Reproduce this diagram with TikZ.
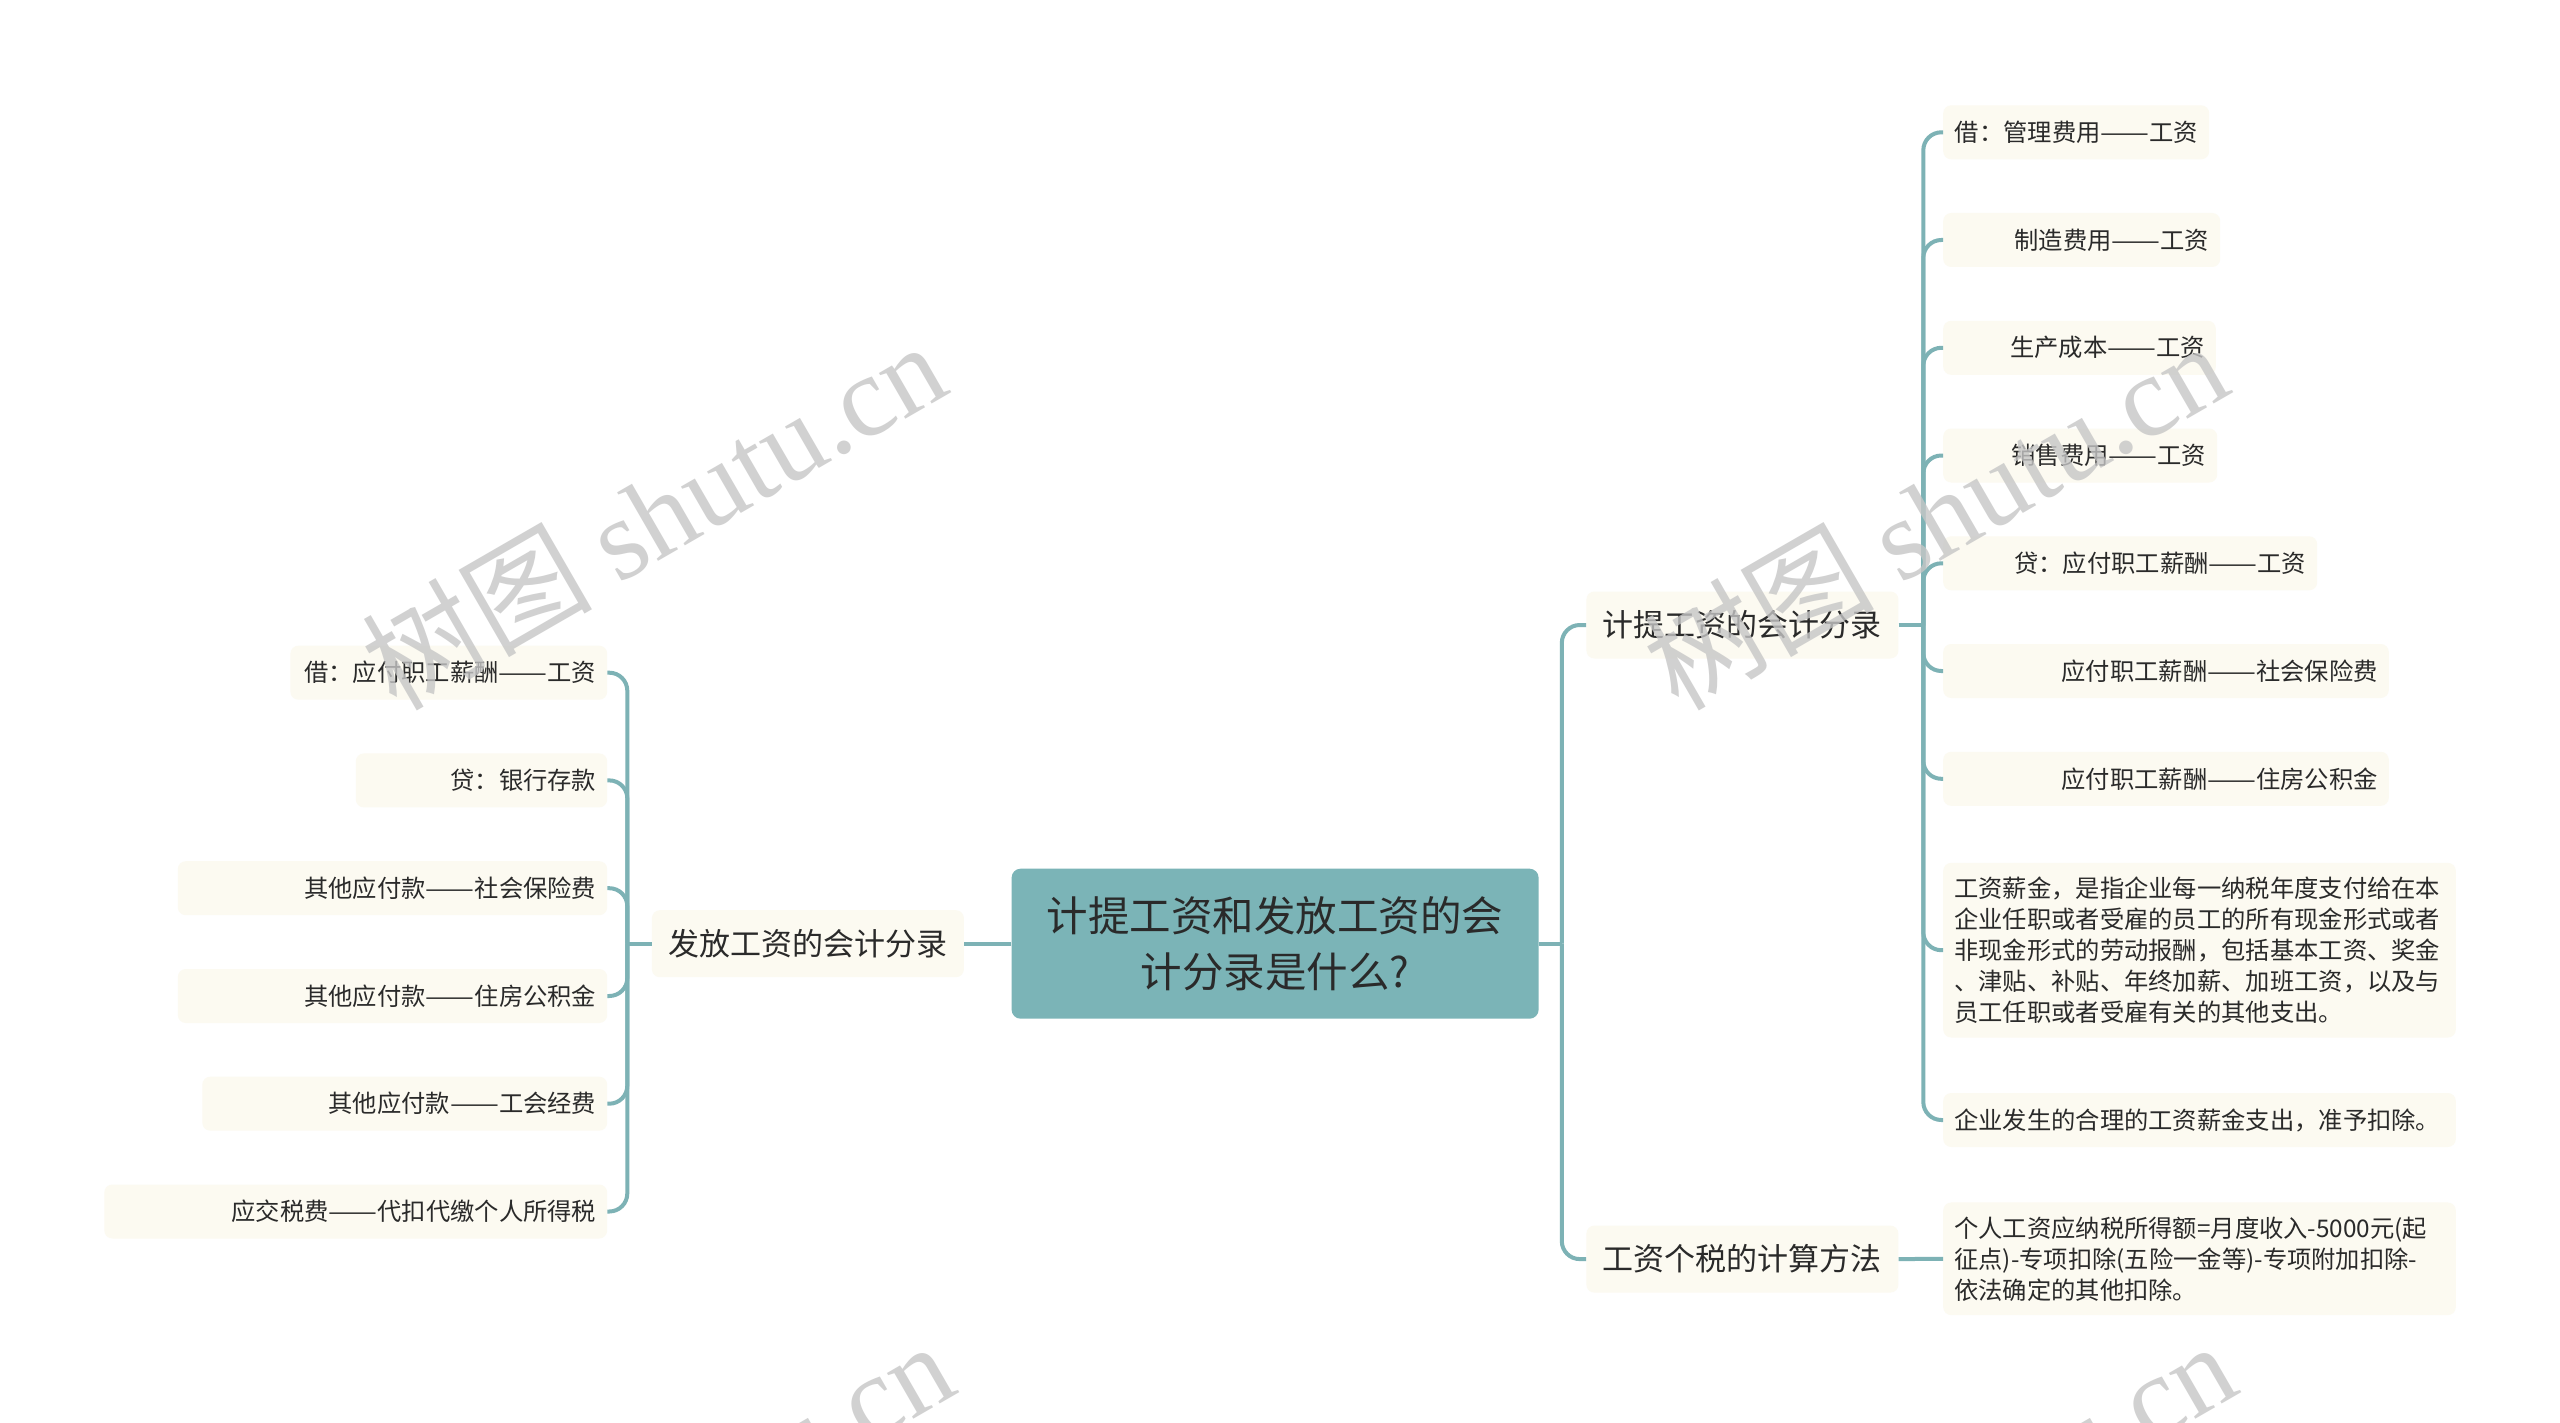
\documentclass[tikz,border=0pt]{standalone}
\usepackage{fontspec}
\setmainfont{Noto Sans CJK SC}
\newfontfamily\wmfont{Liberation Serif}
\usepackage{tikz}
\usetikzlibrary{positioning}
\definecolor{mmteal}{HTML}{7BB4B7}
\definecolor{mmline}{HTML}{7DB2B5}
\definecolor{mmcream}{HTML}{FCFAF1}
\definecolor{mmtext}{HTML}{2A2A2A}
\definecolor{mmmark}{HTML}{C6C6C6}
\newcommand{\dd}{\scalebox{1.2}[1]{——}}

\begin{document}
\begin{tikzpicture}[
  x=1pt, y=-1pt,
  mainbox/.style={
    rectangle, rounded corners=9pt, fill=mmteal, text=mmtext,
    minimum width=527pt, minimum height=150pt, inner sep=0pt,
    align=center, font=\fontsize{41.5}{55.5}\selectfont
  },
  branch/.style={
    rectangle, rounded corners=8pt, fill=mmcream, text=mmtext,
    minimum width=312pt, minimum height=67pt, inner sep=0pt,
    font=\fontsize{31}{37}\selectfont
  },
  leaf/.style={
    rectangle, rounded corners=8pt, fill=mmcream, text=mmtext,
    text width=#1, minimum height=54pt, inner xsep=11pt, inner ysep=14pt,
    align=right, font=\fontsize{24.3}{31}\selectfont
  },
  link/.style={draw=mmline, line width=4pt, rounded corners=18pt},
  wmark/.style={text=mmmark, opacity=.8, rotate=30, font=\fontsize{115}{115}\selectfont},
]
\path[use as bounding box, fill=white] (0,0) rectangle (2560,1423);

% Centre
\node[mainbox] (main) at (1275.1,943.7) {计提工资和发放工资的会\\计分录是什么?};

% Branches
\node[branch, left=47.3pt of main] (pay) {发放工资的会计分录};
\node[branch, above right=209.8pt and 47.4pt of main] (accr) {计提工资的会计分录};
\node[branch, below right=206.5pt and 47.4pt of main] (tax) {工资个税的计算方法};

% Leaves (right)
\node[leaf=244pt, anchor=west] (a1) at (1943,132.3) {借：管理费用\dd 工资};
\node[leaf=255pt, anchor=west] (a2) at (1943,240) {制造费用\dd 工资};
\node[leaf=250.6pt, anchor=west] (a3) at (1943,347.8) {生产成本\dd 工资};
\node[leaf=252pt, anchor=west] (a4) at (1943,455.5) {销售费用\dd 工资};
\node[leaf=352pt, anchor=west] (a5) at (1943,563.3) {贷：应付职工薪酬\dd 工资};
\node[leaf=423.6pt, anchor=west] (a6) at (1943,671) {应付职工薪酬\dd 社会保险费};
\node[leaf=423.6pt, anchor=west] (a7) at (1943,778.8) {应付职工薪酬\dd 住房公积金};
\node[leaf=490.6pt, align=left, anchor=west] (a8) at (1943,950.2) {工资薪金，是指企业每一纳税年度支付给在本\\企业任职或者受雇的员工的所有现金形式或者\\非现金形式的劳动报酬，包括基本工资、奖金\\、津贴、补贴、年终加薪、加班工资，以及与\\员工任职或者受雇有关的其他支出。};
\node[leaf=490.6pt, align=left, anchor=west] (a9) at (1943,1120) {企业发生的合理的工资薪金支出，准予扣除。};
\node[leaf=490.6pt, align=left, anchor=west] (t1) at (1943,1258.8) {个人工资应纳税所得额=月度收入-5000元(起\\征点)-专项扣除(五险一金等)-专项附加扣除-\\依法确定的其他扣除。};

% Leaves (left)
\node[leaf=294.8pt, anchor=east] (b1) at (607.4,672.7) {借：应付职工薪酬\dd 工资};
\node[leaf=229.4pt, anchor=east] (b2) at (607.4,780.4) {贷：银行存款};
\node[leaf=407.4pt, anchor=east] (b3) at (607.4,888.2) {其他应付款\dd 社会保险费};
\node[leaf=407.4pt, anchor=east] (b4) at (607.4,996) {其他应付款\dd 住房公积金};
\node[leaf=382.9pt, anchor=east] (b5) at (607.4,1103.7) {其他应付款\dd 工会经费};
\node[leaf=480.9pt, anchor=east] (b6) at (607.4,1211.5) {应交税费\dd 代扣代缴个人所得税};

% Links
\draw[link] (main.west) -- (pay.east);
\draw[link] (main.east) -- ++(23,0) coordinate (rtrunk);
\draw[link] (rtrunk) |- (accr.west);
\draw[link] (rtrunk) |- (tax.west);

\draw[link] (accr.east) -- ++(24.7,0) coordinate (atrunk);
\draw[link] (atrunk) |- (a1.west);
\draw[link] (atrunk) |- (a2.west);
\draw[link] (atrunk) |- (a3.west);
\draw[link] (atrunk) |- (a4.west);
\draw[link] (atrunk) |- (a5.west);
\draw[link] (atrunk) |- (a6.west);
\draw[link] (atrunk) |- (a7.west);
\draw[link] (atrunk) |- (a8.west);
\draw[link] (atrunk) |- (a9.west);
\draw[link] (tax.east) -- (t1.west);

\draw[link] (pay.west) -- ++(-24.4,0) coordinate (ptrunk);
\draw[link] (ptrunk) |- (b1.east);
\draw[link] (ptrunk) |- (b2.east);
\draw[link] (ptrunk) |- (b3.east);
\draw[link] (ptrunk) |- (b4.east);
\draw[link] (ptrunk) |- (b5.east);
\draw[link] (ptrunk) |- (b6.east);

% Watermark
\begin{scope}
\clip (0,0) rectangle (2560,1423);
\node[wmark] (wm1) at (653,514) {树图 {\wmfont shutu.cn}};
\node[wmark] (wm2) at (1935,514) {树图 {\wmfont shutu.cn}};
\node[wmark] (wm3) at (661,1514) {树图 {\wmfont shutu.cn}};
\node[wmark] (wm4) at (1943,1514) {树图 {\wmfont shutu.cn}};
\end{scope}

\end{tikzpicture}
\end{document}
